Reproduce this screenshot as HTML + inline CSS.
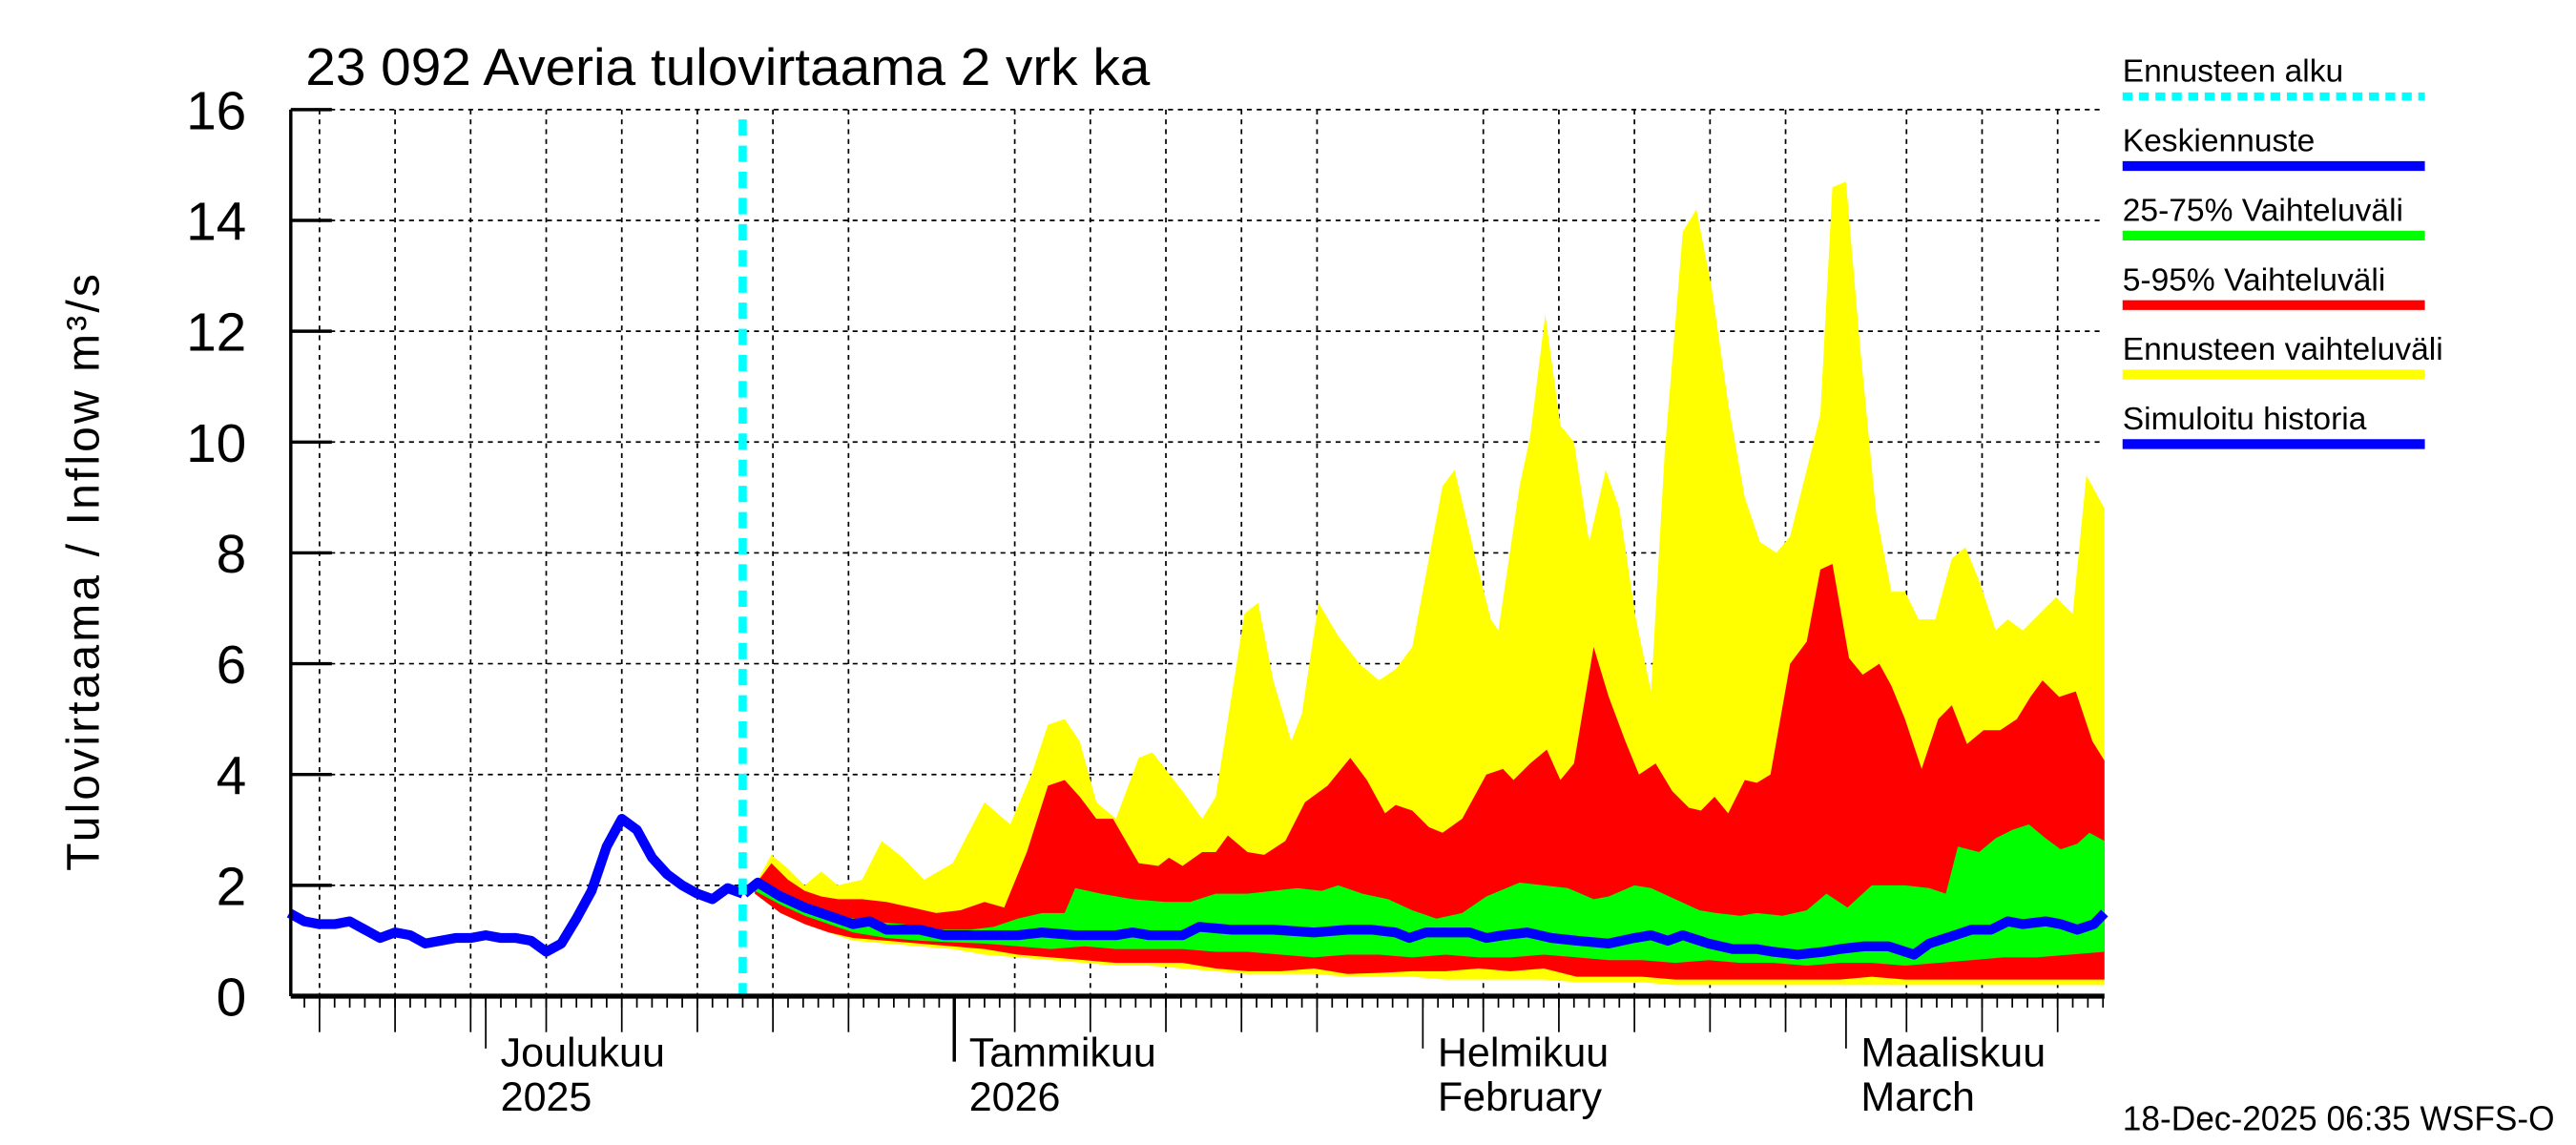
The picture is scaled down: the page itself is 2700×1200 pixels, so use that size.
<!DOCTYPE html>
<html><head><meta charset="utf-8"><style>
html,body{margin:0;padding:0;background:#fff;}
svg{display:block;}
text{font-family:"Liberation Sans",sans-serif;fill:#000;}
</style></head><body>
<svg id="chart" width="2700" height="1200" viewBox="0 0 1568 700" preserveAspectRatio="none" xmlns="http://www.w3.org/2000/svg">
<rect x="0" y="0" width="1568" height="700" fill="#fff"/>
<g id="grid"></g>
<g id="bands"></g>
<g id="lines"></g>
<g id="axes"></g>
<text x="186" y="52" font-size="32" textLength="514" lengthAdjust="spacingAndGlyphs">23 092 Averia tulovirtaama 2 vrk ka</text>
<text transform="translate(60,350) rotate(-90)" text-anchor="middle" font-size="28" textLength="365" lengthAdjust="spacing">Tulovirtaama / Inflow    m³/s</text>
<g id="legend"></g>
<text x="1292" y="691" font-size="21" textLength="263" lengthAdjust="spacingAndGlyphs">18-Dec-2025 06:35 WSFS-O</text>
</svg>
<script>
// ---- data (day offset from 1 Dec 2025, value m3/s) ----
const yTicks = [0,2,4,6,8,10,12,14,16];
const monthStarts = [0,31,62,90];
const monthLabels = ["Joulukuu","Tammikuu","Helmikuu","Maaliskuu"];
const monthLabels2 = ["2025","2026","February","March"];
const forecastStartDay = 17;

const histDays = [-13,-12,-11,-10,-9,-8,-7,-6,-5,-4,-3,-2,-1,0,1,2,3,4,5,6,7,8,9,10,11,12,13,14,15,16,17];
const histVals = [1.5,1.35,1.3,1.3,1.35,1.2,1.05,1.15,1.1,0.95,1.0,1.05,1.05,1.1,1.05,1.05,1.0,0.8,0.95,1.4,1.9,2.7,3.2,3.0,2.5,2.2,2.0,1.85,1.75,1.95,1.85];

const maxDays = [17.8,18.9,20,21.1,22.2,23.3,24.9,26.2,27.6,29,30.9,33,34.7,36.1,37.2,38.3,39.3,40.4,41.7,43.2,44.1,46.1,47.4,48.3,50.2,51.1,52.1,53.3,54,55.1,56.4,57.8,59.1,60.2,61.3,63.3,64.1,65.4,66.5,67,68.4,69.1,70.1,71.1,72,73,74.1,75,76.1,77.1,78,79.2,80.1,81.1,82.2,83.3,84.3,85.4,86.3,87.4,88.3,89.1,90,90.9,92,93,93.9,94.8,95.9,97,97.9,98.8,99.9,100.7,101.7,102.8,103.9,105,105.9,107.1];
const maxVals = [2.0,2.55,2.3,2.0,2.25,2.0,2.1,2.8,2.5,2.1,2.4,3.5,3.1,4.0,4.9,5.0,4.6,3.5,3.2,4.3,4.4,3.7,3.2,3.6,6.9,7.1,5.7,4.6,5.1,7.1,6.5,6.0,5.7,5.9,6.3,9.2,9.5,8.0,6.8,6.6,9.2,10.1,12.3,10.3,10.0,8.2,9.5,8.8,6.8,5.5,9.8,13.8,14.2,12.8,10.7,9.0,8.2,8.0,8.3,9.5,10.5,14.6,14.7,11.8,8.7,7.3,7.3,6.8,6.8,7.9,8.1,7.5,6.6,6.8,6.6,6.9,7.2,6.9,9.4,8.8];

const p95Days = [17.8,18.9,20,21.1,22.2,23.3,24.9,26.5,28.2,29.8,31.4,33,34.3,35.8,37.2,38.3,39.3,40.4,41.5,43.2,44.5,45.2,46.1,47.4,48.3,49.1,50.4,51.5,52.9,54.2,55.7,57.2,58.3,59.5,60.2,61.3,62.4,63.3,64.6,66.2,67.3,68,69.1,70.2,71.1,72,73.3,74.3,75.4,76.3,77.4,78.5,79.6,80.4,81.3,82.2,83.3,84.1,85,86.3,87.4,88.3,89.1,90.2,91.1,92.2,93,93.9,95,96.1,97,98,99.1,100.2,101.3,102.2,103,104.1,105.2,106.3,107.1];
const p95Vals = [2.0,2.4,2.1,1.9,1.8,1.75,1.75,1.7,1.6,1.5,1.55,1.7,1.6,2.6,3.8,3.9,3.6,3.2,3.2,2.4,2.35,2.5,2.35,2.6,2.6,2.9,2.6,2.55,2.8,3.5,3.8,4.3,3.9,3.3,3.45,3.35,3.05,2.95,3.2,4.0,4.1,3.9,4.2,4.45,3.9,4.2,6.3,5.4,4.6,4.0,4.2,3.7,3.4,3.35,3.6,3.3,3.9,3.85,4.0,6.0,6.4,7.7,7.8,6.1,5.8,6.0,5.6,5.0,4.1,5.0,5.25,4.55,4.8,4.8,5.0,5.4,5.7,5.4,5.5,4.6,4.25];

const p75Days = [17.8,18.9,21.1,23.3,25.4,27.6,29.8,32,33.6,35.2,36.8,38.3,39,40.7,42.8,45,46.6,48.3,50.4,53.7,55.3,56.4,58,59.7,61.3,62.9,64.6,66.2,68.4,70,71.6,73.3,74.3,76,77.1,78.7,80.3,81.4,83,84.1,85.8,87.4,88.7,90.1,91.7,93.9,95.5,96.6,97.4,98.8,99.9,101,102.1,103.2,104.2,105.3,106.1,107.1];
const p75Vals = [2.0,1.8,1.6,1.45,1.35,1.3,1.2,1.2,1.25,1.4,1.5,1.5,1.95,1.85,1.75,1.7,1.7,1.85,1.85,1.95,1.9,2.0,1.85,1.75,1.55,1.4,1.5,1.8,2.05,2.0,1.95,1.75,1.8,2.0,1.95,1.75,1.55,1.5,1.45,1.5,1.45,1.55,1.85,1.6,2.0,2.0,1.95,1.85,2.7,2.6,2.85,3.0,3.1,2.85,2.65,2.75,2.95,2.8];

const medDays = [17.1,18,19.5,21.1,22.7,24.3,25.4,26.5,28.7,30.3,33,35.2,36.8,39,41.7,42.8,43.9,46.1,47.2,49.3,52.1,54.8,57,58.6,60.2,61.1,62.2,65.1,66.2,67.3,68.9,70.5,72.2,74.3,76,77.1,78.2,79.2,80.9,82.5,84.1,85.2,86.8,88.5,89.6,91.2,92.8,94.5,95.5,97.2,98.3,99.6,100.7,101.7,103.2,104.2,105.3,106.4,107.1];
const medVals = [1.85,2.05,1.8,1.6,1.45,1.3,1.35,1.2,1.2,1.1,1.1,1.1,1.15,1.1,1.1,1.15,1.1,1.1,1.25,1.2,1.2,1.15,1.2,1.2,1.15,1.05,1.15,1.15,1.05,1.1,1.15,1.05,1.0,0.95,1.05,1.1,1.0,1.1,0.95,0.85,0.85,0.8,0.75,0.8,0.85,0.9,0.9,0.75,0.95,1.1,1.2,1.2,1.35,1.3,1.35,1.3,1.2,1.3,1.5];

const lowDays = [17.8,19.5,21.1,22.7,24.3,26.5,28.7,30.9,33,35.2,37.4,39.6,41.7,43.9,46.1,48.3,50.4,52.6,54.8,57,59.1,61.3,63.5,65.7,67.8,70,72.2,74.3,76.5,78.7,80.9,83,85.2,87.4,89.6,91.7,93.9,96.1,98.3,100.4,102.6,104.8,107.1];
const p25Vals = [1.9,1.65,1.45,1.3,1.15,1.05,1.0,0.97,0.95,0.9,0.85,0.9,0.85,0.85,0.85,0.8,0.8,0.75,0.7,0.75,0.75,0.7,0.75,0.7,0.7,0.75,0.7,0.65,0.65,0.6,0.65,0.6,0.6,0.55,0.6,0.6,0.55,0.6,0.65,0.7,0.7,0.75,0.8];
const p05Vals = [1.85,1.5,1.3,1.15,1.05,1.0,0.95,0.9,0.85,0.75,0.7,0.65,0.6,0.6,0.6,0.5,0.45,0.45,0.5,0.4,0.42,0.45,0.45,0.5,0.45,0.5,0.35,0.35,0.35,0.3,0.3,0.3,0.3,0.3,0.3,0.35,0.3,0.3,0.3,0.3,0.3,0.3,0.3];
const minVals = [1.85,1.5,1.3,1.15,1.0,0.95,0.9,0.85,0.75,0.7,0.65,0.6,0.55,0.55,0.5,0.45,0.4,0.4,0.4,0.35,0.35,0.35,0.3,0.3,0.3,0.3,0.25,0.25,0.25,0.2,0.2,0.2,0.2,0.2,0.2,0.2,0.2,0.2,0.2,0.2,0.2,0.2,0.2];

const legendLabels = ["Ennusteen alku","Keskiennuste","25-75% Vaihteluväli","5-95% Vaihteluväli","Ennusteen vaihteluväli","Simuloitu historia"];
const legendColors = ["#00ffff","#0000ff","#00ff00","#ff0000","#ffff00","#0000ff"];

// ---- scales ----
const X0=177, X1=1281, Y0=609, Y1=67;
const dayMin=-12.9, dayMax=107.1;
function xs(d){return X0+(d-dayMin)/(dayMax-dayMin)*(X1-X0);}
function ys(v){return Y0-(v/16)*(Y0-Y1);}
const NS="http://www.w3.org/2000/svg";
function mk(tag,attrs,parent){const e=document.createElementNS(NS,tag);for(const k in attrs)e.setAttribute(k,attrs[k]);parent.appendChild(e);return e;}
const grid=document.getElementById('grid'),bands=document.getElementById('bands'),lines=document.getElementById('lines'),axes=document.getElementById('axes'),legend=document.getElementById('legend');

// grid
yTicks.forEach(v=>{ if(v===0) return;
  const l=mk('line',{x1:X0,x2:X1,y1:ys(v),y2:ys(v),stroke:'#000','stroke-width':1,'stroke-dasharray':'3,3'},grid);
  
  
});
const gridDays=[];
monthStarts.forEach((m,i)=>{[4,9,14,19,24].forEach(o=>gridDays.push(m+o));});
[-11,-6,-1].forEach(d=>gridDays.push(d));
gridDays.forEach(d=>{ if(d<dayMin||d>dayMax) return;
  const l=mk('line',{x1:xs(d),x2:xs(d),y1:Y1,y2:Y0,stroke:'#000','stroke-width':1,'stroke-dasharray':'3,3'},grid);
  
  
});

// bands
function band(topD,topV,botD,botV,color,name){
  let pts=topD.map((d,i)=>xs(d)+','+ys(topV[i]));
  for(let i=botD.length-1;i>=0;i--) pts.push(xs(botD[i])+','+ys(botV[i]));
  const p=mk('polygon',{points:pts.join(' '),fill:color,stroke:'none'},bands);
  
  
}
band(maxDays,maxVals,lowDays,minVals,'#ffff00','forecast-range-band');
band(p95Days,p95Vals,lowDays,p05Vals,'#ff0000','p5-95-band');
band(p75Days,p75Vals,lowDays,p25Vals,'#00ff00','p25-75-band');

// lines
function line(D,V,color,w,name){
  const p=mk('polyline',{points:D.map((d,i)=>xs(d)+','+ys(V[i])).join(' '),fill:'none',stroke:color,'stroke-width':w,'stroke-linejoin':'round'},lines);
  
  
}
line(histDays,histVals,'#0000ff',6,'simulated-history-line');
line(medDays,medVals,'#0000ff',6,'median-forecast-line');
const fl=mk('line',{x1:xs(forecastStartDay),x2:xs(forecastStartDay),y1:Y1+6,y2:Y0,stroke:'#00ffff','stroke-width':5,'stroke-dasharray':'10,6'},lines);



// axes
const ya=mk('line',{x1:X0,x2:X0,y1:Y1,y2:Y0,stroke:'#000','stroke-width':2},axes);


const xa=mk('line',{x1:X0,x2:X1,y1:Y0,y2:Y0,stroke:'#000','stroke-width':3},axes);


yTicks.forEach(v=>{
  const t=mk('line',{x1:X0,x2:X0+25,y1:ys(v),y2:ys(v),stroke:'#000','stroke-width':2},axes);
  
  
  const tx=mk('text',{x:150,y:ys(v)+12,'text-anchor':'end','font-size':33},axes);
  tx.textContent=v;
  
  
});
for(let d=-12;d<=107;d++){
  const t=mk('line',{x1:xs(d),x2:xs(d),y1:Y0,y2:Y0+7,stroke:'#000','stroke-width':1},axes);
  
  
}
gridDays.forEach(d=>{ if(d<dayMin||d>dayMax) return;
  const t=mk('line',{x1:xs(d),x2:xs(d),y1:Y0,y2:Y0+22,stroke:'#000','stroke-width':1},axes);
  
  
});
monthStarts.forEach((m,i)=>{
  const t=mk('line',{x1:xs(m),x2:xs(m),y1:Y0,y2:Y0+(i===1?40:32),stroke:'#000','stroke-width':i===1?2:1},axes);
  
  
  const a=mk('text',{x:xs(m)+9,y:652,'font-size':25},axes);
  a.textContent=monthLabels[i];
  
  
  const b=mk('text',{x:xs(m)+9,y:679,'font-size':25},axes);
  b.textContent=monthLabels2[i];
  
  
});

// legend
legendLabels.forEach((lab,i)=>{
  const y0=50+i*42.5;
  const t=mk('text',{x:1292,y:y0,'font-size':19.5},legend);
  t.textContent=lab;
  
  
  const attrs={x1:1292,x2:1476,y1:y0+9,y2:y0+9,stroke:legendColors[i],'stroke-width':i===0?5:6};
  if(i===0) attrs['stroke-dasharray']='6,4';
  const l=mk('line',attrs,legend);
  
  
});
</script>
</body></html>
